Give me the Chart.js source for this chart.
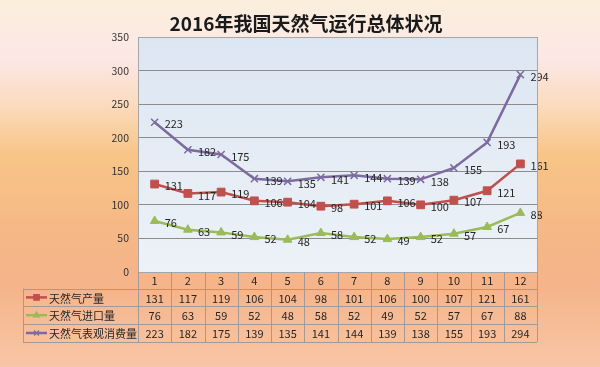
<!DOCTYPE html>
<html><head><meta charset="utf-8">
<script src="https://cdn.jsdelivr.net/npm/chart.js@4/dist/chart.umd.min.js"></script>
<style>
html,body{margin:0;padding:0;width:600px;height:367px;overflow:hidden}
body{background:linear-gradient(to bottom,#fbefdc 0%,#fce7e6 16%,#fbdcc0 28%,#f8c587 42%,#f6b886 62%,#f5b48a 78%,#f8c6a6 100%)}
#wrap{position:relative;width:600px;height:367px}
</style></head><body>
<div id="wrap"><canvas id="c" width="600" height="367"></canvas></div>
<script>
const chartTitle = '2016年我国天然气运行总体状况';
const months = ['1','2','3','4','5','6','7','8','9','10','11','12'];
const seriesNames = ['天然气产量','天然气进口量','天然气表观消费量'];
const production = [131,117,119,106,104,98,101,106,100,107,121,161];
const imports = [76,63,59,52,48,58,52,49,52,57,67,88];
const consumption = [223,182,175,139,135,141,144,139,138,155,193,294];
const yTicks = [0,50,100,150,200,250,300,350];

const colors = ['#c0504d','#9bbb59','#7d6ba0'];
const styles = ['rect','triangle','crossRot'];
const radii = [5.5,5,5];
const seriesData = [production, imports, consumption];

const FONT = '"Noto Sans CJK SC","Noto Sans",sans-serif';
const TABLE_LEFT = 23;
const HEADER_H = 16.5;
const ROW_H = 17.8;

const bgPlugin = {
  id: 'plotBg',
  beforeDraw(chart) {
    const {ctx, chartArea: a} = chart;
    const g = ctx.createLinearGradient(0, a.top, 0, a.bottom);
    g.addColorStop(0, '#dce6f2');
    g.addColorStop(1, '#edf2f8');
    ctx.save();
    ctx.fillStyle = g;
    ctx.fillRect(a.left, a.top, a.right - a.left, a.bottom - a.top);
    ctx.restore();
  },
  afterDraw(chart) {
    const {ctx, chartArea: a} = chart;
    ctx.save();
    ctx.strokeStyle = '#a6a6a6';
    ctx.lineWidth = 1;
    ctx.strokeRect(Math.round(a.left)+0.5, Math.round(a.top)+0.5, Math.round(a.right-a.left), Math.round(a.bottom-a.top));
    ctx.fillStyle = '#1a1a1a';
    ctx.font = 'bold 19px ' + FONT;
    ctx.textAlign = 'center';
    ctx.textBaseline = 'middle';
    ctx.fillText(chartTitle, 306, 24);
    const xs = chart.scales.x;
    const top = a.bottom;
    const hb = top + HEADER_H;
    const bottom = hb + ROW_H * 3;
    ctx.strokeStyle = '#a39a96';
    ctx.lineWidth = 1;
    ctx.beginPath();
    ctx.moveTo(TABLE_LEFT, Math.round(hb)+0.5); ctx.lineTo(a.right, Math.round(hb)+0.5);
    for (let r = 1; r <= 3; r++) {
      const y = Math.round(hb + r*ROW_H)+0.5;
      ctx.moveTo(TABLE_LEFT, y); ctx.lineTo(a.right, y);
    }
    const colW = (a.right - a.left) / months.length;
    for (let i = 0; i <= months.length; i++) {
      const x = Math.round(a.left + i*colW)+0.5;
      ctx.moveTo(x, top); ctx.lineTo(x, bottom);
    }
    ctx.moveTo(TABLE_LEFT+0.5, hb); ctx.lineTo(TABLE_LEFT+0.5, bottom);
    ctx.stroke();

    ctx.fillStyle = '#262626';
    ctx.font = '11px ' + FONT;
    ctx.textAlign = 'center';
    ctx.textBaseline = 'middle';
    months.forEach((m, i) => {
      ctx.fillText(m, xs.getPixelForValue(i), top + HEADER_H/2 + 1);
    });
    seriesData.forEach((arr, s) => {
      const cy = hb + ROW_H*s + ROW_H/2 + 1;
      arr.forEach((v, i) => {
        ctx.fillText(String(v), xs.getPixelForValue(i), cy);
      });
    });
    seriesNames.forEach((name, s) => {
      const cy = hb + ROW_H*s + ROW_H/2;
      ctx.strokeStyle = colors[s];
      ctx.fillStyle = colors[s];
      ctx.lineWidth = 2.5;
      ctx.beginPath();
      ctx.moveTo(26, cy); ctx.lineTo(47, cy); ctx.stroke();
      ctx.lineWidth = 1.2;
      Chart.helpers.drawPoint(ctx, {pointStyle: styles[s], radius: radii[s]*0.7, rotation: 0, borderWidth: 1.2}, 36.5, cy);
      ctx.fillStyle = '#262626';
      ctx.textAlign = 'left';
      ctx.font = '11px ' + FONT;
      ctx.fillText(name, 49, cy + 1);
    });
    ctx.restore();
  }
};

const labelPlugin = {
  id: 'pointLabels',
  afterDatasetsDraw(chart) {
    const ctx = chart.ctx;
    ctx.save();
    ctx.font = '11px ' + FONT;
    ctx.fillStyle = '#262626';
    ctx.textAlign = 'left';
    ctx.textBaseline = 'middle';
    chart.data.datasets.forEach((ds, di) => {
      const meta = chart.getDatasetMeta(di);
      meta.data.forEach((pt, i) => {
        ctx.fillText(String(ds.data[i]), pt.x + 10, pt.y + 2);
      });
    });
    ctx.restore();
  }
};

new Chart(document.getElementById('c'), {
  type: 'line',
  data: {
    labels: months,
    datasets: seriesData.map((arr, s) => ({
      label: seriesNames[s],
      data: arr,
      borderColor: colors[s],
      backgroundColor: colors[s],
      borderWidth: 2.5,
      pointStyle: styles[s],
      pointRadius: radii[s],
      pointBorderWidth: s === 2 ? 1.5 : 1,
      pointBorderColor: colors[s],
      pointBackgroundColor: colors[s],
      tension: 0,
      fill: false
    }))
  },
  options: {
    responsive: false,
    devicePixelRatio: 1,
    animation: false,
    layout: {padding: {left: 0, right: 63, top: 37, bottom: 95}},
    plugins: {legend: {display: false}, title: {display: false}, tooltip: {enabled: false}},
    scales: {
      x: {type: 'category', offset: true, display: false},
      y: {
        min: 0, max: 350,
        afterBuildTicks(scale) { scale.ticks = yTicks.map(v => ({value: v})); },
        afterFit(scale) { scale.width = 138; },
        ticks: {color: '#333', font: {family: FONT, size: 10.5}, padding: 9},
        grid: {color: '#8c8c8c', lineWidth: 1, drawTicks: false},
        border: {display: false}
      }
    }
  },
  plugins: [bgPlugin, labelPlugin]
});
</script>
</body></html>
